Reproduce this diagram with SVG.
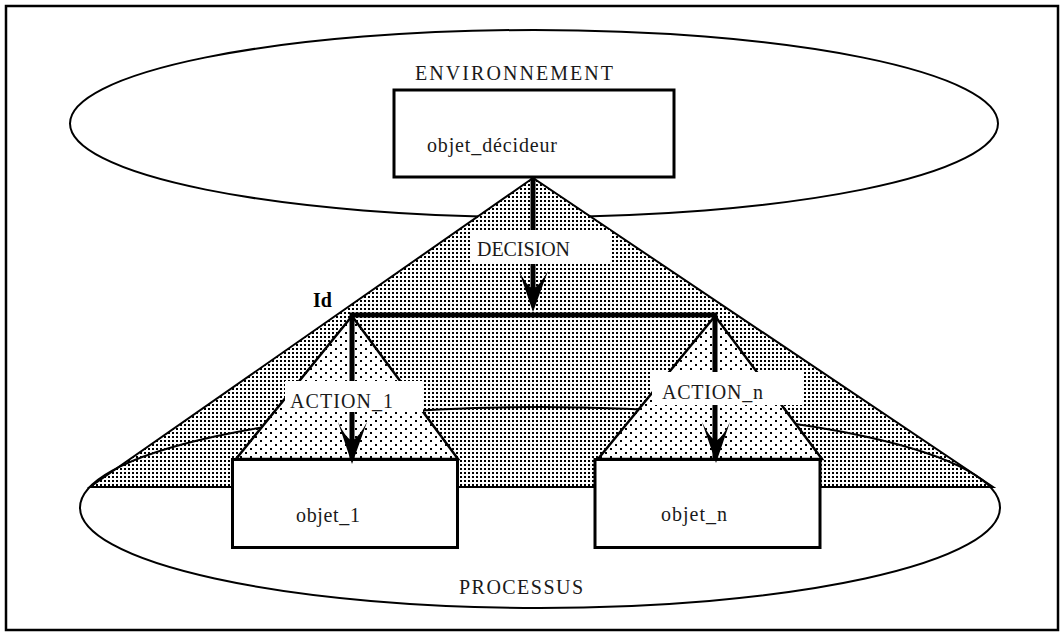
<svg xmlns="http://www.w3.org/2000/svg" width="1064" height="636" viewBox="0 0 1064 636">
<style>
  .t { font-family: "Liberation Serif", "Times New Roman", serif; font-size: 20px; fill: #1a1a1a; }
  .b { font-weight: bold; fill: #000; }
  .thin { fill: none; stroke: #000; stroke-width: 2; }
  .box { fill: #fff; stroke: #000; stroke-width: 3; }
  .bar { fill: none; stroke: #000; stroke-width: 5; }
  .head { fill: #000; stroke: none; }
  .lbl { fill: #fff; stroke: none; }
</style>
<defs>
  <pattern id="dense" width="4" height="4" patternUnits="userSpaceOnUse">
    <rect x="0" y="0" width="2" height="2" fill="#000"/>
  </pattern>
  <pattern id="sparse" width="10" height="8" patternUnits="userSpaceOnUse">
    <rect x="0" y="0" width="2" height="2" fill="#000"/>
    <rect x="5" y="4" width="2" height="2" fill="#000"/>
  </pattern>
</defs>
<rect x="0" y="0" width="1064" height="636" fill="#fff"/>
<rect x="6" y="6" width="1052" height="624" fill="none" stroke="#000" stroke-width="2.5"/>

<g id="environnement">
  <ellipse cx="534" cy="123.5" rx="464" ry="93.5" fill="#fff" stroke="#000" stroke-width="2"/>
  <text class="t" x="415" y="80" textLength="198">ENVIRONNEMENT</text>
</g>

<g id="zone_decision">
  <polygon points="533,178 90,487 993,487" fill="#fff"/>
  <polygon points="533,178 90,487 993,487" fill="url(#dense)" stroke="#000" stroke-width="2"/>
</g>

<g id="processus">
  <ellipse cx="540" cy="507.5" rx="460" ry="100.5" fill="none" stroke="#000" stroke-width="2"/>
  <text class="t" x="459" y="594" textLength="124">PROCESSUS</text>
</g>

<g id="zone_action_1">
  <polygon points="352,316 236,459 458,459" fill="#fff"/>
  <polygon points="352,316 236,459 458,459" fill="url(#sparse)" stroke="#000" stroke-width="2.5"/>
</g>
<g id="zone_action_n">
  <polygon points="715,316 598,459 822,459" fill="#fff"/>
  <polygon points="715,316 598,459 822,459" fill="url(#sparse)" stroke="#000" stroke-width="2.5"/>
</g>

<g id="objet_decideur">
  <rect class="box" x="394" y="90" width="280" height="87"/>
  <text class="t" x="427" y="152" textLength="130">objet_décideur</text>
</g>

<g id="objet_1">
  <rect class="box" x="232.5" y="459.5" width="225" height="88"/>
  <text class="t" x="296" y="522" textLength="64">objet_1</text>
</g>

<g id="objet_n">
  <rect class="box" x="595" y="459.5" width="225" height="88"/>
  <text class="t" x="661" y="521" textLength="66">objet_n</text>
</g>

<g id="connectors">
  <line class="bar" x1="533" y1="178" x2="533" y2="290"/>
  <path class="bar" d="M352,459 L352,315 L715,315 L715,459" stroke-linejoin="miter"/>
  <path class="head" d="M533,312 L519,271 Q526,285 533,289 Q540,285 548,271 Z"/>
  <path class="head" d="M352,464 L338,422 Q345,437 352,441 Q359,437 367,422 Z"/>
  <path class="head" d="M716,463 L702,422 Q709,437 716,441 Q723,437 730,422 Z"/>
</g>

<g id="labels">
  <rect class="lbl" x="470" y="230" width="140" height="34"/>
  <text class="t" x="477" y="256" textLength="93">DECISION</text>
  <rect class="lbl" x="285" y="381" width="138" height="31"/>
  <text class="t" x="290" y="408" textLength="103">ACTION_1</text>
  <rect class="lbl" x="652" y="372" width="151" height="33"/>
  <text class="t" x="662" y="399" textLength="101">ACTION_n</text>
  <text class="t b" x="313" y="307">Id</text>
</g>
</svg>
